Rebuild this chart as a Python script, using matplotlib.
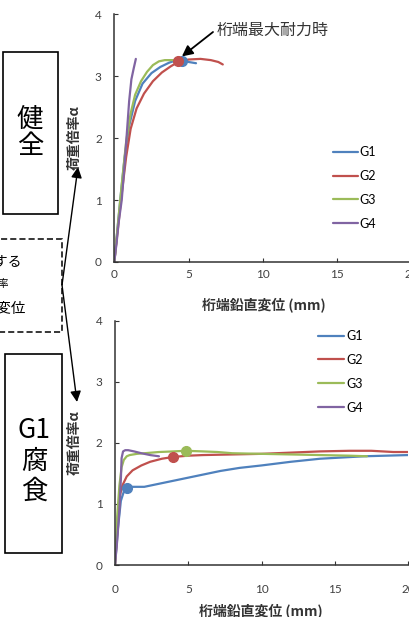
import numpy as np
import matplotlib
matplotlib.use('Agg')
import matplotlib.pyplot as plt
from matplotlib.patches import Rectangle

# --- data ---
labels = ['G1', 'G2', 'G3', 'G4']
colors = ['#4F81BD', '#C0504D', '#9BBB59', '#8064A2']

# healthy girder (top)
g1_top_x = [0, 0.2, 0.4, 0.7, 1.0, 1.4, 1.9, 2.5, 3.1, 3.7, 4.2, 4.6, 5.0, 5.5]
g1_top_y = [0, 0.5, 1.0, 1.7, 2.2, 2.6, 2.88, 3.05, 3.15, 3.22, 3.26, 3.27, 3.23, 3.21]
g2_top_x = [0, 0.2, 0.5, 0.8, 1.1, 1.5, 2.0, 2.6, 3.2, 3.8, 4.3, 5.0, 5.8, 6.5, 7.0, 7.3]
g2_top_y = [0, 0.45, 1.1, 1.7, 2.15, 2.48, 2.72, 2.92, 3.06, 3.16, 3.23, 3.27, 3.28, 3.26, 3.23, 3.19]
g3_top_x = [0, 0.2, 0.5, 0.8, 1.1, 1.4, 1.8, 2.2, 2.6, 3.0, 3.4, 3.9, 4.4]
g3_top_y = [0, 0.5, 1.25, 1.95, 2.4, 2.7, 2.92, 3.07, 3.18, 3.24, 3.26, 3.26, 3.25]
g4_top_x = [0, 0.15, 0.3, 0.5, 0.7, 0.85, 1.0, 1.15, 1.3, 1.45]
g4_top_y = [0, 0.3, 0.65, 1.0, 1.6, 2.1, 2.6, 2.95, 3.12, 3.28]
peak_top_x = [4.55, 4.27]
peak_top_y = [3.25, 3.24]
peak_top_c = [0, 1]

# G1 corroded (bottom)
g1_bot_x = [0, 0.2, 0.4, 0.6, 0.8, 1.2, 2.0, 3.0, 4.0, 5.0, 6.0, 7.2, 8.5, 10.0, 12.0, 14.0, 15.5, 17.0, 18.5, 20.0]
g1_bot_y = [0, 0.6, 1.05, 1.2, 1.26, 1.28, 1.28, 1.33, 1.38, 1.43, 1.48, 1.54, 1.59, 1.63, 1.69, 1.74, 1.76, 1.78, 1.79, 1.8]
g2_bot_x = [0, 0.2, 0.35, 0.5, 0.8, 1.2, 1.8, 2.4, 3.2, 4.0, 5.0, 6.0, 8.0, 10.0, 12.0, 14.0, 16.0, 17.5, 19.0, 20.0]
g2_bot_y = [0, 0.7, 1.15, 1.3, 1.45, 1.55, 1.63, 1.69, 1.74, 1.77, 1.79, 1.8, 1.81, 1.82, 1.84, 1.86, 1.87, 1.87, 1.85, 1.85]
g3_bot_x = [0, 0.15, 0.3, 0.45, 0.6, 0.8, 1.0, 1.5, 2.0, 3.0, 4.0, 4.8, 6.0, 7.0, 8.0, 10.0, 12.0, 14.0, 16.0, 17.2]
g3_bot_y = [0, 0.8, 1.3, 1.6, 1.72, 1.78, 1.8, 1.82, 1.83, 1.85, 1.86, 1.87, 1.86, 1.85, 1.83, 1.82, 1.81, 1.8, 1.79, 1.78]
g4_bot_x = [0, 0.15, 0.3, 0.4, 0.45, 0.55, 0.7, 0.9, 1.3, 1.8, 2.4, 3.0]
g4_bot_y = [0, 0.4, 0.9, 1.4, 1.75, 1.86, 1.88, 1.88, 1.86, 1.83, 1.8, 1.78]
peak_bot_x = [0.8, 3.97, 4.84]
peak_bot_y = [1.26, 1.77, 1.87]
peak_bot_c = [0, 1, 2]

x_ticks = [0, 5, 10, 15, 20]
y_ticks = [0, 1, 2, 3, 4]
xlabel = '桁端鉛直変位 (mm)'
ylabel = '荷重倍率α'

W, H = 409, 617
cjk = ['Noto Sans CJK JP', 'DejaVu Sans']
num_font = ['Lato', 'DejaVu Sans']

fig = plt.figure(figsize=(W / 100, H / 100), dpi=100)


def fx(px):
    return px / W


def fy(py):
    return 1 - py / H


def setup(ax, pad_x):
    ax.set_xlim(0, 20)
    ax.set_ylim(0, 4)
    ax.set_xticks(x_ticks)
    ax.set_yticks(y_ticks)
    for s in ['top', 'right']:
        ax.spines[s].set_visible(False)
    for s in ['left', 'bottom']:
        ax.spines[s].set_color('#333333')
        ax.spines[s].set_linewidth(1.1)
    ax.tick_params(axis='both', direction='in', length=3, width=0.8, color='#333333',
                   labelcolor='#404040', labelsize=8.5)
    ax.tick_params(axis='y', pad=9)
    ax.tick_params(axis='x', pad=pad_x)
    for t in ax.get_xticklabels() + ax.get_yticklabels():
        t.set_family(num_font)
    ax.patch.set_alpha(0)


# top axes
ax1 = fig.add_axes([fx(114.3), fy(262), (411.5 - 114.3) / W, (262 - 14.3) / H])
setup(ax1, 5)
tops = [(g1_top_x, g1_top_y), (g2_top_x, g2_top_y), (g3_top_x, g3_top_y), (g4_top_x, g4_top_y)]
for (x, y), c, l in zip(tops, colors, labels):
    ax1.plot(x, y, color=c, lw=1.6, label=l, solid_capstyle='round')
for x, y, i in zip(peak_top_x, peak_top_y, peak_top_c):
    ax1.plot(x, y, 'o', color=colors[i], ms=7, zorder=5)
ax1.legend(loc='upper left', bbox_to_anchor=(fx(333), fy(146)), bbox_transform=fig.transFigure,
           frameon=False, handlelength=2.0, handletextpad=0.15, labelspacing=0.95,
           borderpad=0, borderaxespad=0, prop={'family': num_font, 'size': 9})
ax1.annotate('', xy=(4.55, 3.32), xytext=(fx(213), fy(32)), textcoords='figure fraction',
             arrowprops=dict(arrowstyle='-|>', color='black', lw=1.3, mutation_scale=16,
                             shrinkA=0, shrinkB=0))
fig.text(fx(217), fy(30), '桁端最大耐力時', family=cjk, fontsize=11.5, color='#333333',
         ha='left', va='center')

# bottom axes
ax2 = fig.add_axes([fx(115), fy(565), (408 - 115) / W, (565 - 320.7) / H])
setup(ax2, 14)
bots = [(g1_bot_x, g1_bot_y), (g2_bot_x, g2_bot_y), (g3_bot_x, g3_bot_y), (g4_bot_x, g4_bot_y)]
for (x, y), c, l in zip(bots, colors, labels):
    ax2.plot(x, y, color=c, lw=1.6, label=l, solid_capstyle='round')
for x, y, i in zip(peak_bot_x, peak_bot_y, peak_bot_c):
    ax2.plot(x, y, 'o', color=colors[i], ms=7, zorder=5)
ax2.legend(loc='upper left', bbox_to_anchor=(fx(318), fy(330)), bbox_transform=fig.transFigure,
           frameon=False, handlelength=2.1, handletextpad=0.15, labelspacing=0.95,
           borderpad=0, borderaxespad=0, prop={'family': num_font, 'size': 9})

# axis titles
for cx, cy in [(264, 305), (261, 611)]:
    fig.text(fx(cx), fy(cy), xlabel, family=cjk, fontsize=10, fontweight='bold',
             color='#333333', ha='center', va='center')
for cy in [138, 443]:
    fig.text(fx(75), fy(cy), ylabel, family=cjk, fontsize=10, fontweight='bold',
             color='#333333', ha='center', va='center', rotation=90)

# side boxes
fig.add_artist(Rectangle((fx(3), fy(214)), fx(55), (214 - 52) / H, transform=fig.transFigure,
                         fill=False, ec='black', lw=1.2))
fig.text(fx(30), fy(133), '健\n全', family=cjk, fontsize=19, ha='center', va='center',
         linespacing=1.0)
fig.add_artist(Rectangle((fx(-5), fy(332)), fx(67), (332 - 239) / H, transform=fig.transFigure,
                         fill=False, ec='black', lw=1.1, ls=(0, (4, 2))))
fig.text(fx(22), fy(262), '着目する', family=cjk, fontsize=10, ha='right', va='center')
fig.text(fx(9), fy(284), '荷重倍率', family=cjk, fontsize=7.5, ha='right', va='center')
fig.text(fx(26), fy(309), '鉛直変位', family=cjk, fontsize=10.5, ha='right', va='center')
fig.add_artist(Rectangle((fx(5), fy(553)), fx(57), (553 - 354) / H, transform=fig.transFigure,
                         fill=False, ec='black', lw=1.2))
fig.text(fx(34), fy(461), 'G1\n腐\n食', family=cjk, fontsize=19, ha='center', va='center',
         linespacing=1.15)

# arrows from the dashed box to the y titles
for tip in [(78, 167), (77, 402)]:
    ax1.annotate('', xy=(fx(tip[0]), fy(tip[1])), xycoords='figure fraction',
                 xytext=(fx(62), fy(285)), textcoords='figure fraction', annotation_clip=False,
                 arrowprops=dict(arrowstyle='-|>', color='black', lw=1.0, mutation_scale=16,
                                 shrinkA=0, shrinkB=0))

fig.savefig('out.png', dpi=100)
